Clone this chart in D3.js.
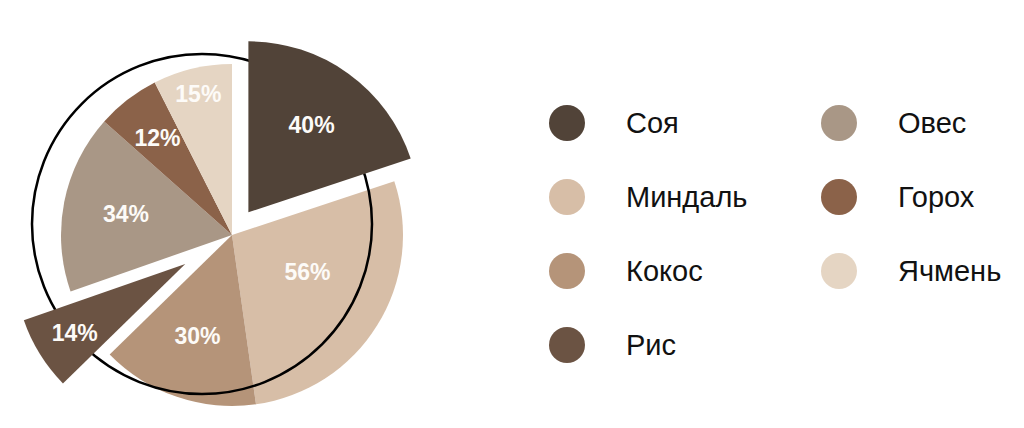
<!DOCTYPE html>
<html>
<head>
<meta charset="utf-8">
<script src="https://cdn.jsdelivr.net/npm/d3@7"></script>
<style>
    html, body { margin: 0; padding: 0; background: #fff; }
    svg { display: block; }
</style>
</head>
<body>
<div id="viz"></div>
<script>
'use strict';

// data
var names = ['Соя', 'Миндаль', 'Кокос', 'Рис', 'Овес', 'Горох', 'Ячмень'];
var values = [40, 56, 30, 14, 34, 12, 15];
var colors = ['#514338', '#d7bea7', '#b59479', '#6b5343', '#a99786', '#8b6249', '#e5d5c3'];
var legendCol1 = ['Соя', 'Миндаль', 'Кокос', 'Рис'];
var legendCol2 = ['Овес', 'Горох', 'Ячмень'];

var width = 1024,
    height = 428;
var cx = 232,
    cy = 235,
    radius = 171;

// layout tweaks: which slices pop out, how far labels sit from the centre
var explode = { 'Соя': 28, 'Рис': 55 };
var labelR = { 'Соя': 108, 'Миндаль': 84, 'Кокос': 107, 'Рис': 130, 'Овес': 108, 'Горох': 122, 'Ячмень': 145 };
var labelNudge = { 'Миндаль': -0.1 };

var svg = d3.select('#viz').append('svg')
    .attr('width', width)
    .attr('height', height);

var color = d3.scaleOrdinal().domain(names).range(colors);

var slices = d3.pie()
    .sort(null)
    .value(d => d.value)(names.map((n, i) => ({ name: n, value: values[i] })));

var arc = d3.arc()
    .innerRadius(0)
    .outerRadius(radius);

function mid(d) {
    return (d.startAngle + d.endAngle) / 2;
}
function shift(d) {
    var k = explode[d.data.name] || 0;
    var a = mid(d);
    return [k * Math.sin(a), -k * Math.cos(a)];
}

var pie = svg.append('g')
    .attr('transform', 'translate(' + cx + ',' + cy + ')');

function drawSlices(list) {
    pie.append('g')
        .selectAll('path')
        .data(list)
        .enter().append('path')
        .attr('d', arc)
        .attr('fill', d => color(d.data.name))
        .attr('transform', d => 'translate(' + shift(d) + ')');
}

drawSlices(slices.filter(d => !explode[d.data.name]));

// thin outline ring, a bit off the pie centre
pie.append('circle')
    .attr('cx', -30)
    .attr('cy', -11)
    .attr('r', 170)
    .attr('fill', 'none')
    .attr('stroke', '#000')
    .attr('stroke-width', 2.5);

drawSlices(slices.filter(d => explode[d.data.name]));

pie.append('g')
    .selectAll('text')
    .data(slices)
    .enter().append('text')
    .attr('x', d => shift(d)[0] + labelR[d.data.name] * Math.sin(mid(d) + (labelNudge[d.data.name] || 0)))
    .attr('y', d => shift(d)[1] - labelR[d.data.name] * Math.cos(mid(d) + (labelNudge[d.data.name] || 0)))
    .attr('dy', '0.35em')
    .attr('text-anchor', 'middle')
    .attr('fill', '#fdfbf8')
    .style('font-family', '"Liberation Sans", Arial, sans-serif')
    .style('font-weight', 'bold')
    .style('font-size', '23px')
    .text(d => d.data.value + '%');

// legend
var rowY = d3.scalePoint().domain(d3.range(4)).range([123, 345]);

function drawLegend(list, x) {
    var item = svg.append('g')
        .selectAll('g')
        .data(list)
        .enter().append('g')
        .attr('transform', (d, i) => 'translate(' + x + ',' + rowY(i) + ')');
    item.append('circle')
        .attr('r', 18)
        .attr('fill', d => color(d));
    item.append('text')
        .attr('x', 59)
        .attr('dy', '0.35em')
        .attr('fill', '#111')
        .style('font-family', '"Liberation Sans", Arial, sans-serif')
        .style('font-size', '29px')
        .text(d => d);
}

drawLegend(legendCol1, 567);
drawLegend(legendCol2, 839);
</script>
</body>
</html>
